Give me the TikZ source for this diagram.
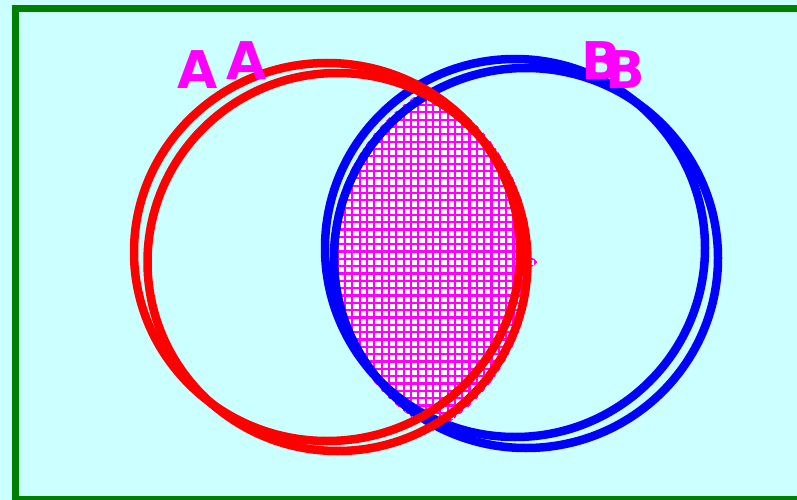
\documentclass[tikz,border=0pt]{standalone}
\usepackage{fontspec}
\newfontfamily\labelfont{DejaVu Sans}
\definecolor{bgcyan}{HTML}{CCFFFF}
\definecolor{frameGreen}{HTML}{008000}
\definecolor{mag}{HTML}{FF00FF}
\tikzset{
  frameline/.style={draw=frameGreen, line width=7pt},
  redring/.style={draw=red, line width=8.5pt},
  bluering/.style={draw=blue, line width=8.5pt},
  gridline/.style={draw=mag, line width=2.2pt},
  setlabel/.style={text=mag, font=\labelfont\bfseries\fontsize{52}{52}\selectfont, inner sep=0pt, anchor=base},
}
\newcommand\lensgrid{%
  \fill[white] (300,60) rectangle (560,460);
  \foreach \i in {0,...,36} {\draw[gridline] (301+\i*7.33,60) -- (301+\i*7.33,460);}
  \foreach \j in {0,...,55} {\draw[gridline] (300,61+\j*7.33) -- (560,61+\j*7.33);}
}
\begin{document}
\begin{tikzpicture}[x=1pt,y=-1pt]
\useasboundingbox (0,0) rectangle (797,500);
\clip (0,0) rectangle (797,500);
\fill[bgcyan] (0,0) rectangle (797,500);
\draw[frameline] (15,8.5) rectangle (830,499.5);
% shaded intersection
\begin{scope}
  \clip (337.5,262) ellipse[x radius=194pt, y radius=196pt];
  \clip (526,258) ellipse[x radius=196pt, y radius=196pt];
  \lensgrid
\end{scope}
\begin{scope}
  \clip (339,260) -- (352,249) -- (352,271) -- cycle;
  \lensgrid
\end{scope}
\begin{scope}
  \clip (538,262) -- (524,251) -- (524,273) -- cycle;
  \lensgrid
\end{scope}
% set B
\draw[bluering] (515,248) ellipse[x radius=190pt, y radius=189pt];
\draw[bluering] (526,258) ellipse[x radius=192pt, y radius=190pt];
% set A
\draw[redring] (327,252) ellipse[x radius=193pt, y radius=189pt];
\draw[redring] (337.5,262) ellipse[x radius=190pt, y radius=189pt];
% labels
\node[setlabel] (A1) at (198,89) {A};
\node[setlabel] (A2) at (246.5,80) {A};
\node[setlabel] (B1) at (601,80) {B};
\node[setlabel] (B2) at (625.5,89) {B};
\end{tikzpicture}
\end{document}
